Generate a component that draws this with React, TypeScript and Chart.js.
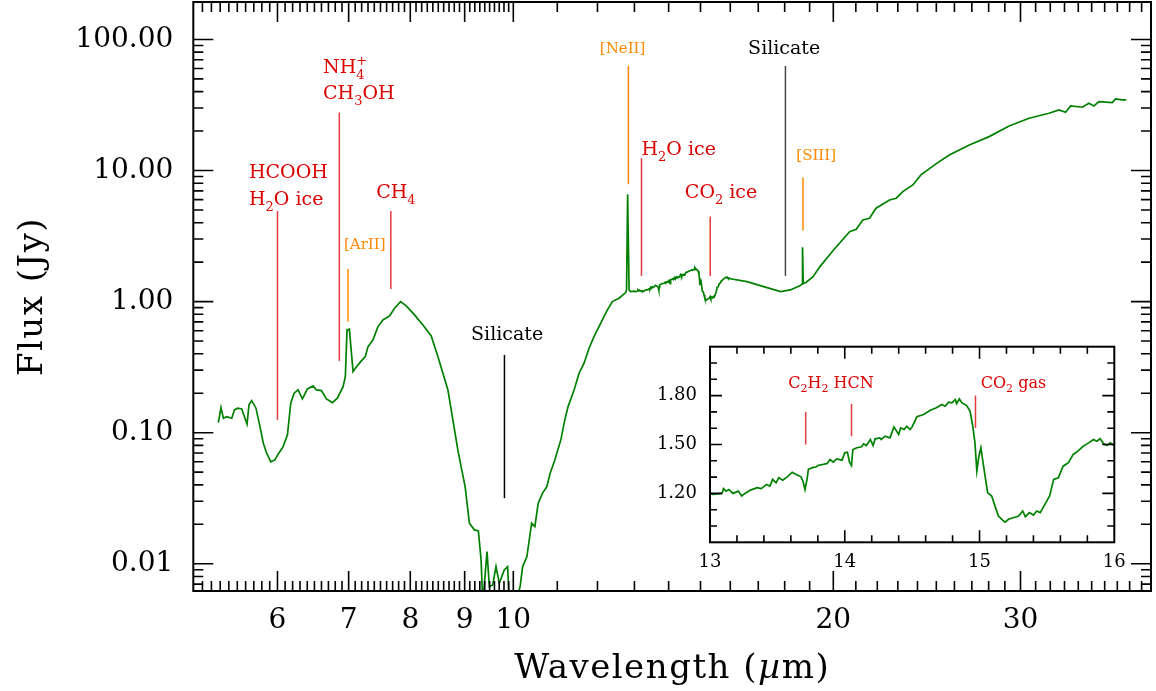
import React, { useEffect, useRef } from 'react';
import { Chart, registerables } from 'chart.js';

Chart.register(...registerables);

const FAMILY = '"DejaVu Serif", serif';
const GREEN = 'rgb(0,128,0)';
const RED = 'rgb(220,0,0)';
const RED_LINE = 'rgb(228,60,60)';
const ORANGE = 'rgb(255,136,0)';
const BLACK = 'rgb(0,0,0)';
const GRAY_LINE = 'rgb(70,70,70)';

// ---- Spectrum: short wavelengths (µm) and flux (Jy)
const wavelengthShort = [
  5.279, 5.309, 5.337, 5.375, 5.434, 5.466, 5.505, 5.553, 5.585, 5.617,
  5.641, 5.674, 5.727, 5.777, 5.819, 5.861, 5.914, 5.966, 6.017, 6.074,
  6.131, 6.175, 6.220, 6.274, 6.333, 6.402, 6.481, 6.528, 6.599, 6.671,
  6.758, 6.831, 6.916, 6.950, 6.976, 7.011, 7.067, 7.102, 7.195, 7.257,
  7.300, 7.379, 7.459, 7.540, 7.649, 7.732, 7.833, 7.930, 8.074, 8.222,
  8.371, 8.493, 8.679, 8.773, 8.868, 8.931, 9.009, 9.093, 9.192, 9.271,
  9.326, 9.360, 9.447, 9.494, 9.564, 9.632, 9.701, 9.806, 9.878, 9.913,
  10.03, 10.151, 10.204, 10.299, 10.405, 10.478, 10.554, 10.654, 10.754, 10.831,
  10.941, 11.084, 11.180, 11.260, 11.407, 11.531, 11.656, 11.783, 11.911, 12.085,
  12.261, 12.394, 12.573, 12.756, 12.78, 12.81, 12.85, 12.885,
];
const fluxShort = [
  0.1194, 0.1554, 0.1290, 0.1327, 0.1290, 0.1493, 0.1538, 0.1519, 0.1327, 0.1161,
  0.1630, 0.1758, 0.1538, 0.1113, 0.0832, 0.0698, 0.0599, 0.0620, 0.0698, 0.0783,
  0.0962, 0.1679, 0.2001, 0.2120, 0.1810, 0.2158, 0.2275, 0.2120, 0.2095, 0.1810,
  0.1697, 0.1833, 0.2247, 0.2679, 0.6083, 0.6160, 0.2924, 0.3105, 0.3529, 0.3806,
  0.4535, 0.5103, 0.6446, 0.7252, 0.7777, 0.8905, 1.000, 0.9273, 0.7916, 0.6641,
  0.5476, 0.3806, 0.2120, 0.1252, 0.0739, 0.0551, 0.0388, 0.0204, 0.01814, 0.01782,
  0.01071, 0.0050, 0.01239, 0.0067, 0.0069, 0.00952, 0.00711, 0.00898, 0.00952, 0.0050,
  0.0045, 0.00678, 0.00952, 0.01135, 0.0204, 0.01922, 0.0290, 0.0346, 0.0388, 0.0491,
  0.0620, 0.0881, 0.1252, 0.1581, 0.2120, 0.2844, 0.3390, 0.4411, 0.5408, 0.6842,
  0.8644, 1.000, 1.061, 1.171, 1.228, 6.60, 1.228, 1.192,
];

// ---- Spectrum: 13-16 µm (also shown in the inset)
const wavelengthInset = [
  13.00, 13.02, 13.09, 13.10, 13.12, 13.14, 13.17, 13.21, 13.235, 13.26,
  13.30, 13.35, 13.38, 13.42, 13.445, 13.465, 13.49, 13.51, 13.54, 13.58,
  13.61, 13.64, 13.675, 13.69, 13.705, 13.72, 13.73, 13.755, 13.79, 13.80,
  13.84, 13.87, 13.89, 13.915, 13.94, 13.98, 14.00, 14.02, 14.035, 14.05,
  14.06, 14.09, 14.125, 14.14, 14.16, 14.19, 14.21, 14.225, 14.26, 14.27,
  14.30, 14.335, 14.365, 14.385, 14.40, 14.415, 14.44, 14.46, 14.485, 14.50,
  14.535, 14.585, 14.635, 14.68, 14.72, 14.745, 14.77, 14.795, 14.82, 14.83,
  14.85, 14.87, 14.905, 14.93, 14.95, 14.966, 14.98, 14.995, 15.01, 15.03,
  15.06, 15.09, 15.115, 15.14, 15.165, 15.19, 15.215, 15.25, 15.29, 15.32,
  15.34, 15.37, 15.40, 15.425, 15.45, 15.485, 15.52, 15.55, 15.585, 15.62,
  15.66, 15.695, 15.73, 15.77, 15.81, 15.845, 15.87, 15.895, 15.92, 15.945,
  15.97, 16.00,
];
const fluxInset = [
  1.200, 1.194, 1.200, 1.229, 1.214, 1.224, 1.200, 1.214, 1.184, 1.200,
  1.220, 1.235, 1.229, 1.255, 1.245, 1.286, 1.265, 1.296, 1.281, 1.306,
  1.330, 1.316, 1.302, 1.275, 1.224, 1.286, 1.347, 1.357, 1.363, 1.371,
  1.378, 1.384, 1.408, 1.392, 1.412, 1.404, 1.449, 1.453, 1.392, 1.371,
  1.469, 1.480, 1.486, 1.504, 1.494, 1.531, 1.494, 1.535, 1.541, 1.531,
  1.551, 1.541, 1.608, 1.581, 1.561, 1.602, 1.592, 1.612, 1.592, 1.608,
  1.670, 1.684, 1.710, 1.725, 1.745, 1.735, 1.759, 1.755, 1.776, 1.751,
  1.780, 1.755, 1.739, 1.704, 1.612, 1.510, 1.337, 1.428, 1.480, 1.367,
  1.204, 1.184, 1.122, 1.061, 1.041, 1.024, 1.041, 1.051, 1.061, 1.092,
  1.057, 1.082, 1.067, 1.092, 1.082, 1.133, 1.184, 1.286, 1.296, 1.367,
  1.388, 1.439, 1.459, 1.490, 1.510, 1.531, 1.520, 1.535, 1.506, 1.494,
  1.510, 1.494,
];

// ---- Spectrum: long wavelengths
const wavelengthLong = [
  16.59, 17.20, 17.84, 18.22, 18.60, 18.69, 18.71, 18.74, 18.85, 19.14,
  19.43, 20.01, 20.72, 21.02, 21.32, 21.63, 21.94, 22.59, 22.92, 23.25,
  23.76, 24.18, 24.98, 25.71, 26.85, 28.03, 29.27, 30.56, 31.91, 32.61,
  33.08, 33.44, 34.30, 34.79, 35.17, 35.55, 36.60, 36.86, 37.40, 37.72,
];
const fluxLong = [
  1.421, 1.301, 1.192, 1.228, 1.320, 1.360, 2.600, 1.380, 1.400, 1.551,
  1.849, 2.479, 3.420, 3.567, 4.200, 4.327, 5.158, 5.967, 6.149, 6.903,
  7.766, 9.257, 11.23, 13.15, 15.68, 18.14, 21.89, 25.05, 27.36, 29.00,
  27.85, 31.11, 30.40, 32.61, 31.11, 33.54, 32.95, 35.17, 34.56, 34.56,
];

// ---- Axes
const xTickValues = [6, 7, 8, 9, 10, 20, 30];
const yTickValues = [0.01, 0.1, 1, 10, 100];
const insetXTickValues = [13, 14, 15, 16];
const insetYTickValues = [1.2, 1.5, 1.8];

// ---- Feature markers (main panel)
const featureWavelength = [6.0, 6.86, 6.99, 7.67, 9.81, 12.83, 13.2, 15.32, 18.03, 18.73];
const featureTop = [4.918, 27.65, 1.777, 4.918, 0.392, 62.8, 12.41, 4.45, 62.8, 8.83];
const featureBottom = [0.1252, 0.3529, 0.7037, 1.25, 0.03165, 7.863, 1.571, 1.571, 1.571, 3.48];
const featureColor = [RED_LINE, RED_LINE, ORANGE, RED_LINE, BLACK, ORANGE, RED_LINE, RED_LINE, GRAY_LINE, ORANGE];

const labelText = ['HCOOH', 'H_2O ice', 'NH_4^+', 'CH_3OH', 'CH_4', '[ArII]', 'Silicate', '[NeII]', 'H_2O ice', 'CO_2 ice', 'Silicate', '[SIII]'];
const labelWavelength = [5.641, 5.641, 6.623, 6.623, 7.431, 6.93, 9.126, 12.06, 13.2, 14.5, 16.63, 18.46];
const labelFlux = [8.737, 5.465, 55.24, 34.99, 6.149, 2.5, 0.5103, 78.5, 13.15, 6.149, 77.5, 12.04];
const labelColor = [RED, RED, RED, RED, RED, ORANGE, BLACK, ORANGE, RED, RED, BLACK, ORANGE];
const labelSize = [19, 19, 19, 19, 19, 15, 19, 15, 19, 19, 19, 15];

// ---- Feature markers (inset)
const insetFeatureWavelength = [13.71, 14.05, 14.97];
const insetFeatureTop = [1.70, 1.749, 1.80];
const insetFeatureBottom = [1.50, 1.551, 1.602];
const insetLabelText = ['C_2H_2 HCN', 'CO_2 gas'];
const insetLabelWavelength = [13.581, 15.009];
const insetLabelFlux = [1.849, 1.849];

function zip(xs: number[], ys: number[]) {
  const n = Math.min(xs.length, ys.length);
  const out: { x: number; y: number }[] = [];
  for (let i = 0; i < n; i++) out.push({ x: xs[i], y: ys[i] });
  return out;
}

function drawRich(ctx: CanvasRenderingContext2D, text: string, x: number, y: number, size: number, color: string) {
  const segs: { t: string; k: string }[] = [];
  let i = 0;
  while (i < text.length) {
    const c = text[i];
    if (c === '_' || c === '^') {
      segs.push({ t: text[i + 1], k: c === '_' ? 'sub' : 'sup' });
      i += 2;
    } else {
      let j = i;
      while (j < text.length && text[j] !== '_' && text[j] !== '^') j++;
      segs.push({ t: text.slice(i, j), k: 'n' });
      i = j;
    }
  }
  ctx.fillStyle = color;
  ctx.textAlign = 'left';
  ctx.textBaseline = 'alphabetic';
  let cx = x;
  let prevSubStart: number | null = null;
  for (const s of segs) {
    if (s.k === 'n') {
      ctx.font = `${size}px ${FAMILY}`;
      ctx.fillText(s.t, cx, y);
      cx += ctx.measureText(s.t).width;
      prevSubStart = null;
    } else if (s.k === 'sub') {
      ctx.font = `${Math.round(size * 0.68)}px ${FAMILY}`;
      ctx.fillText(s.t, cx, y + size * 0.3);
      prevSubStart = cx;
      cx += ctx.measureText(s.t).width;
    } else {
      ctx.font = `${Math.round(size * 0.68)}px ${FAMILY}`;
      const w = ctx.measureText(s.t).width;
      const sx = prevSubStart !== null ? prevSubStart : cx;
      ctx.fillText(s.t, sx, y - size * 0.42);
      cx = Math.max(cx, sx + w);
      prevSubStart = null;
    }
  }
}

type TickSet = { major: number[]; minor: number[] };

function makeFramePlugin(xt: TickSet, yt: TickSet, majorLen: number, minorLen: number, frameWidth: number) {
  return {
    id: 'frameTicks',
    afterDraw(chart: any) {
      const { ctx, chartArea: a, scales } = chart;
      const xs = scales.x;
      const ys = scales.y;
      ctx.save();
      ctx.strokeStyle = '#000';
      ctx.lineWidth = 1.6;
      ctx.beginPath();
      const inX = (v: number) => v > xs.min && v < xs.max;
      const inY = (v: number) => v > ys.min && v < ys.max;
      const xTick = (v: number, len: number) => {
        if (!inX(v)) return;
        const p = xs.getPixelForValue(v);
        ctx.moveTo(p, a.bottom);
        ctx.lineTo(p, a.bottom - len);
        ctx.moveTo(p, a.top);
        ctx.lineTo(p, a.top + len);
      };
      const yTick = (v: number, len: number) => {
        if (!inY(v)) return;
        const p = ys.getPixelForValue(v);
        ctx.moveTo(a.left, p);
        ctx.lineTo(a.left + len, p);
        ctx.moveTo(a.right, p);
        ctx.lineTo(a.right - len, p);
      };
      xt.minor.forEach((v) => xTick(v, minorLen));
      xt.major.forEach((v) => xTick(v, majorLen));
      yt.minor.forEach((v) => yTick(v, minorLen));
      yt.major.forEach((v) => yTick(v, majorLen));
      ctx.stroke();
      ctx.lineWidth = frameWidth;
      ctx.strokeRect(a.left, a.top, a.right - a.left, a.bottom - a.top);
      ctx.restore();
    },
  };
}

function makeMarkerPlugin(
  wl: number[], top: number[], bottom: number[], colors: string[],
  texts: string[], lx: number[], ly: number[], lcolors: string[], lsizes: number[],
) {
  return {
    id: 'markers',
    afterDatasetsDraw(chart: any) {
      const { ctx, scales } = chart;
      const xs = scales.x;
      const ys = scales.y;
      ctx.save();
      for (let i = 0; i < wl.length; i++) {
        const px = xs.getPixelForValue(wl[i]);
        ctx.strokeStyle = colors[i];
        ctx.lineWidth = 1.5;
        ctx.beginPath();
        ctx.moveTo(px, ys.getPixelForValue(top[i]));
        ctx.lineTo(px, ys.getPixelForValue(bottom[i]));
        ctx.stroke();
      }
      for (let i = 0; i < texts.length; i++) {
        drawRich(ctx, texts[i], xs.getPixelForValue(lx[i]), ys.getPixelForValue(ly[i]), lsizes[i], lcolors[i]);
      }
      ctx.restore();
    },
  };
}

const titlesPlugin = {
  id: 'titles',
  afterDraw(chart: any) {
    const { ctx, chartArea: a } = chart;
    ctx.save();
    ctx.fillStyle = '#000';
    const size = 34;
    const normal = `${size}px ${FAMILY}`;
    const italic = `italic ${size}px ${FAMILY}`;
    const parts = [
      { t: 'Wavelength (', f: normal },
      { t: 'µ', f: italic },
      { t: 'm)', f: normal },
    ];
    (ctx as any).letterSpacing = '1.5px';
    let total = 0;
    parts.forEach((p) => { ctx.font = p.f; total += ctx.measureText(p.t).width; });
    let cx = (a.left + a.right) / 2 - total / 2;
    ctx.textBaseline = 'alphabetic';
    ctx.textAlign = 'left';
    parts.forEach((p) => { ctx.font = p.f; ctx.fillText(p.t, cx, 678); cx += ctx.measureText(p.t).width; });
    ctx.translate(42, (a.top + a.bottom) / 2);
    ctx.rotate(-Math.PI / 2);
    ctx.font = normal;
    ctx.textAlign = 'center';
    ctx.fillText('Flux (Jy)', 0, 0);
    ctx.restore();
  },
};

function logMinor(lo: number, hi: number, stepsPerDecade: number[]): number[] {
  const out: number[] = [];
  for (let d = Math.floor(Math.log10(lo)) - 1; d <= Math.ceil(Math.log10(hi)); d++) {
    for (const m of stepsPerDecade) out.push(m * Math.pow(10, d));
  }
  return out;
}

function noPad(s: any) {
  s.paddingTop = 0;
  s.paddingBottom = 0;
  s.paddingLeft = 0;
  s.paddingRight = 0;
}

export default function App() {
  const mainRef = useRef<HTMLCanvasElement>(null);
  const insetRef = useRef<HTMLCanvasElement>(null);

  useEffect(() => {
    document.body.style.margin = '0';
    document.body.style.overflow = 'hidden';

    const xMinor: number[] = [];
    for (let k = 50; k < 100; k++) xMinor.push(k / 10);
    for (let k = 10; k <= 40; k++) xMinor.push(k);
    const yMinor = logMinor(0.006, 200, [2, 3, 4, 5, 6, 7, 8, 9]);

    const mainData = [
      ...zip(wavelengthShort, fluxShort),
      ...zip(wavelengthInset, fluxInset),
      ...zip(wavelengthLong, fluxLong),
    ];

    const main = new Chart(mainRef.current!, {
      type: 'scatter',
      data: {
        datasets: [{
          data: mainData,
          showLine: true,
          borderColor: GREEN,
          borderWidth: 1.7,
          pointRadius: 0,
          tension: 0,
        }],
      },
      options: {
        responsive: false,
        animation: false,
        layout: { padding: { top: 2, right: 5, left: 0, bottom: 0 } },
        plugins: { legend: { display: false }, tooltip: { enabled: false } },
        scales: {
          x: {
            type: 'logarithmic',
            min: 5,
            max: 39.8,
            afterBuildTicks: (s: any) => { s.ticks = xTickValues.map((v) => ({ value: v })); },
            afterFit: (s: any) => { s.height = 100; noPad(s); },
            grid: { display: false, drawTicks: false },
            border: { display: false },
            ticks: {
              autoSkip: false, maxRotation: 0, minRotation: 0, padding: 13, color: '#000',
              font: { family: FAMILY, size: 28 },
              callback: (v: any) => String(v),
            },
          },
          y: {
            type: 'logarithmic',
            min: 0.0062,
            max: 193,
            afterBuildTicks: (s: any) => { s.ticks = yTickValues.map((v) => ({ value: v })); },
            afterFit: (s: any) => { s.width = 193.3; noPad(s); },
            grid: { display: false, drawTicks: false },
            border: { display: false },
            ticks: {
              autoSkip: false, padding: 20, color: '#000',
              font: { family: FAMILY, size: 28 },
              callback: (v: any) => Number(v).toFixed(2),
            },
          },
        },
      },
      plugins: [
        makeMarkerPlugin(featureWavelength, featureTop, featureBottom, featureColor,
          labelText, labelWavelength, labelFlux, labelColor, labelSize),
        makeFramePlugin({ major: xTickValues, minor: xMinor }, { major: yTickValues, minor: yMinor }, 20, 10, 2),
        titlesPlugin,
      ],
    } as any);

    const ixMinor: number[] = [];
    for (let k = 65; k <= 80; k++) ixMinor.push(k / 5);
    const iyMinor: number[] = [];
    for (let k = 9; k <= 21; k++) iyMinor.push(k / 10);

    const inset = new Chart(insetRef.current!, {
      type: 'scatter',
      data: {
        datasets: [{
          data: zip(wavelengthInset, fluxInset),
          showLine: true,
          borderColor: GREEN,
          borderWidth: 1.7,
          pointRadius: 0,
          tension: 0,
        }],
      },
      options: {
        responsive: false,
        animation: false,
        layout: { padding: { top: 16.7, right: 15.7, left: 0, bottom: 0 } },
        plugins: { legend: { display: false }, tooltip: { enabled: false } },
        scales: {
          x: {
            type: 'linear',
            min: 13,
            max: 16,
            afterBuildTicks: (s: any) => { s.ticks = insetXTickValues.map((v) => ({ value: v })); },
            afterFit: (s: any) => { s.height = 47.7; noPad(s); },
            grid: { display: false, drawTicks: false },
            border: { display: false },
            ticks: {
              autoSkip: false, maxRotation: 0, minRotation: 0, padding: 9, color: '#000',
              font: { family: FAMILY, size: 18 },
              callback: (v: any) => String(v),
            },
          },
          y: {
            type: 'linear',
            min: 0.9,
            max: 2.1,
            afterBuildTicks: (s: any) => { s.ticks = insetYTickValues.map((v) => ({ value: v })); },
            afterFit: (s: any) => { s.width = 90; noPad(s); },
            grid: { display: false, drawTicks: false },
            border: { display: false },
            ticks: {
              autoSkip: false, padding: 13, color: '#000',
              font: { family: FAMILY, size: 18 },
              callback: (v: any) => Number(v).toFixed(2),
            },
          },
        },
      },
      plugins: [
        makeMarkerPlugin(insetFeatureWavelength, insetFeatureTop, insetFeatureBottom,
          [RED_LINE, RED_LINE, RED_LINE],
          insetLabelText, insetLabelWavelength, insetLabelFlux, [RED, RED], [16, 16]),
        makeFramePlugin({ major: insetXTickValues, minor: ixMinor }, { major: insetYTickValues, minor: iyMinor }, 12, 7, 2),
      ],
    } as any);

    return () => {
      main.destroy();
      inset.destroy();
    };
  }, []);

  return (
    <div style={{ position: 'relative', width: 1156, height: 691, background: '#fff' }}>
      <canvas ref={mainRef} width={1156} height={691} style={{ position: 'absolute', left: 0, top: 0 }} />
      <canvas ref={insetRef} width={510} height={260} style={{ position: 'absolute', left: 620, top: 330 }} />
    </div>
  );
}
